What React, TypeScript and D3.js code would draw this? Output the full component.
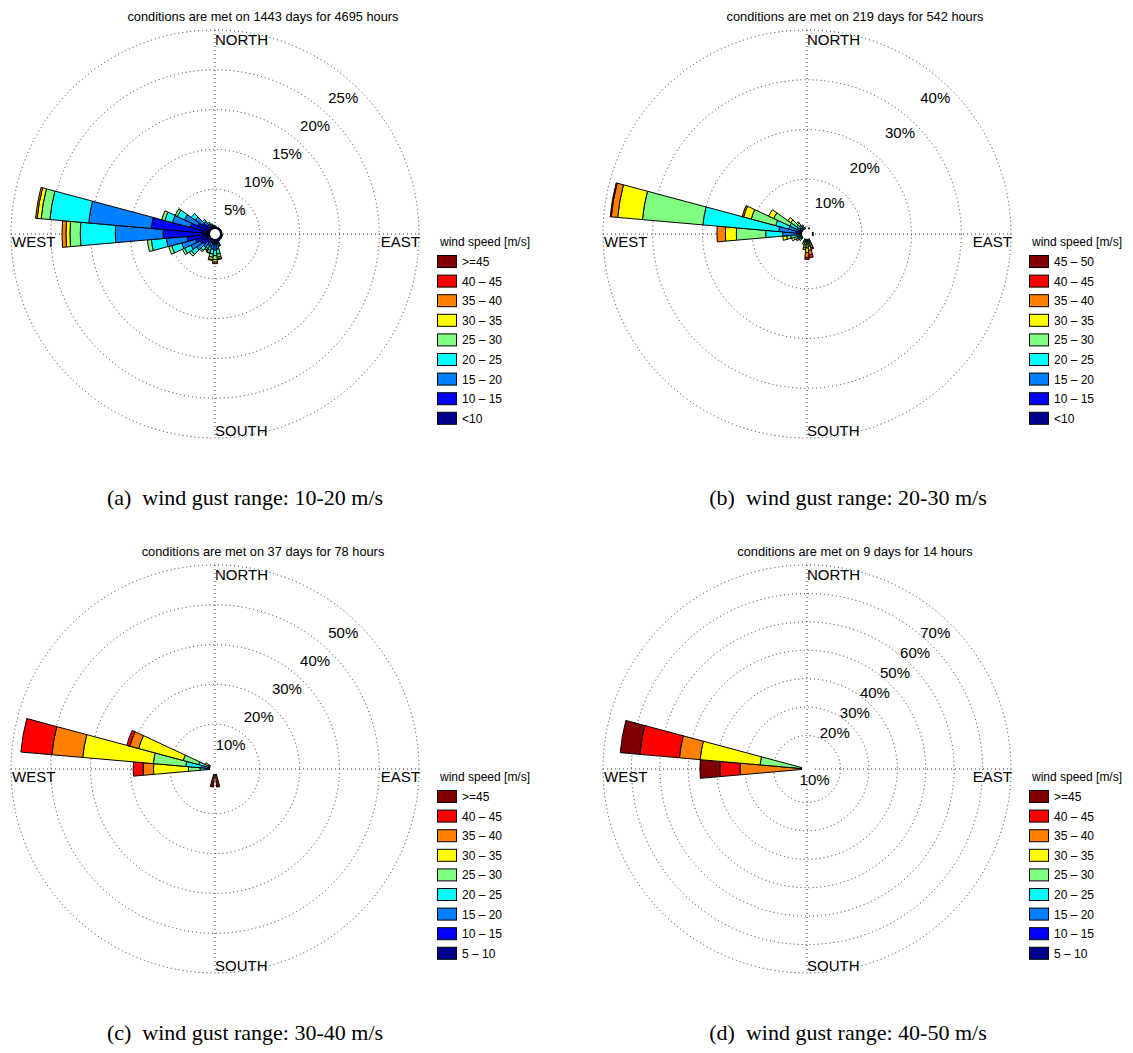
import React from 'react';
import * as d3 from 'd3';

const W = 1133;
const H = 1053;

// colour of each wind-speed class, lowest to highest
const speedColors = ['#00008f', '#0000ff', '#0080ff', '#00ffff', '#80ff80', '#ffff00', '#ff8000', '#ff0000', '#800000'];

// legend labels, lowest class first
const legendA = ['<10', '10 – 15', '15 – 20', '20 – 25', '25 – 30', '30 – 35', '35 – 40', '40 – 45', '>=45'];
const legendB = ['<10', '10 – 15', '15 – 20', '20 – 25', '25 – 30', '30 – 35', '35 – 40', '40 – 45', '45 – 50'];
const legendC = ['5 – 10', '10 – 15', '15 – 20', '20 – 25', '25 – 30', '30 – 35', '35 – 40', '40 – 45', '>=45'];
const legendD = ['5 – 10', '10 – 15', '15 – 20', '20 – 25', '25 – 30', '30 – 35', '35 – 40', '40 – 45', '>=45'];

const titles = [
  'conditions are met on 1443 days for 4695 hours',
  'conditions are met on 219 days for 542 hours',
  'conditions are met on 37 days for 78 hours',
  'conditions are met on 9 days for 14 hours',
];
const captions = [
  '(a)  wind gust range: 10-20 m/s',
  '(b)  wind gust range: 20-30 m/s',
  '(c)  wind gust range: 30-40 m/s',
  '(d)  wind gust range: 40-50 m/s',
];

const ringsA = [5, 10, 15, 20, 25];
const ringsB = [10, 20, 30, 40];
const ringsC = [10, 20, 30, 40, 50];
const ringsD = [10, 20, 30, 40, 50, 60, 70];

// sectors: [direction (deg, clockwise from north), % per speed class lowest->highest]
const roseA: number[][] = [
  [0, 0.1, 0.2, 0.1],
  [10, 0.1, 0.15, 0.05],
  [20, 0.1, 0.1, 0.05],
  [30, 0.1, 0.1, 0.05],
  [40, 0.1, 0.1, 0.05],
  [50, 0.1, 0.1, 0.05],
  [60, 0.1, 0.1, 0.05],
  [70, 0.1, 0.1, 0.05],
  [80, 0.1, 0.1, 0.05],
  [90, 0.1, 0.1, 0.05],
  [100, 0.1, 0.15, 0.05],
  [110, 0.1, 0.15, 0.05],
  [120, 0.1, 0.15, 0.05],
  [130, 0.1, 0.15, 0.05],
  [140, 0.1, 0.15, 0.05],
  [150, 0.1, 0.2, 0.1],
  [160, 0.1, 0.3, 0.3, 0.2, 0.1],
  [170, 0.1, 0.5, 0.7, 0.6, 0.4, 0.2, 0.1],
  [180, 0.1, 0.5, 0.8, 0.7, 0.5, 0.3, 0.2],
  [190, 0.1, 0.5, 0.7, 0.6, 0.4, 0.3, 0.1],
  [200, 0.1, 0.4, 0.6, 0.4, 0.3, 0.1],
  [210, 0.1, 0.4, 0.5, 0.4, 0.2, 0.1],
  [220, 0.1, 0.6, 0.7, 0.5, 0.2],
  [230, 0.2, 1.0, 1.0, 0.8, 0.3],
  [240, 0.2, 1.2, 1.3, 0.9, 0.3],
  [250, 0.3, 1.6, 1.8, 1.3, 0.4],
  [260, 0.4, 2.5, 2.6, 1.9, 0.5],
  [270, 0.8, 5.1, 6.0, 4.4, 1.3, 0.5, 0.5],
  [280, 1.0, 6.4, 7.9, 4.9, 1.1, 0.5, 0.2],
  [290, 0.4, 2.2, 2.3, 1.0, 0.4],
  [300, 0.3, 1.5, 1.8, 1.0, 0.3],
  [310, 0.3, 1.0, 1.1, 0.6],
  [320, 0.2, 0.6, 0.5, 0.3],
  [330, 0.1, 0.4, 0.3, 0.2],
  [340, 0.1, 0.3, 0.2, 0.1],
  [350, 0.1, 0.2, 0.1, 0.1],
];

const roseB: number[][] = [
  [20, 0, 0, 0, 0, 0, 0.3],
  [80, 0, 0, 0, 0, 0, 0, 0.3],
  [100, 0, 0, 0, 0, 0, 0, 0, 0.3],
  [160, 0, 0.1, 0.2, 0.3, 0.4, 0.4, 0.5, 0.3],
  [170, 0, 0.1, 0.3, 0.5, 0.6, 0.8, 0.9, 0.6],
  [180, 0, 0.1, 0.3, 0.6, 0.8, 0.9, 1.0, 0.4],
  [190, 0, 0.1, 0.2, 0.4, 0.5, 0.5, 0.5],
  [200, 0, 0.1, 0.2, 0.3, 0.3, 0.3],
  [230, 0, 0.1, 0.2, 0.3, 0.3],
  [240, 0, 0.1, 0.2, 0.4, 0.4, 0.3],
  [250, 0, 0.1, 0.3, 0.6, 0.7, 0.5],
  [260, 0.1, 0.2, 0.5, 1.5, 0.8, 0.8],
  [270, 0.1, 0.3, 3.5, 3.4, 5.9, 2.2, 1.7],
  [280, 0.3, 0.8, 3.6, 15.3, 12.2, 5.0, 1.3, 0.2],
  [290, 0.1, 0.7, 2.0, 2.7, 5.1, 1.6, 0.3],
  [300, 0.1, 0.3, 0.8, 1.6, 3.6, 1.1],
  [310, 0.1, 0.2, 0.4, 0.8, 1.5, 0.7],
  [320, 0.1, 0.2, 0.3, 0.5, 0.6, 0.3],
  [330, 0.1, 0.1, 0.2, 0.3, 0.3],
  [340, 0, 0.1, 0.1, 0.2],
];

const roseC: number[][] = [
  [170, 0, 0, 0, 0, 0.3, 0.3, 0.5, 1.0, 1.2],
  [190, 0, 0, 0, 0, 0.2, 0.3, 0.5, 1.1, 1.2],
  [270, 0, 0.3, 0.7, 1.5, 2.9, 8.8, 2.6, 2.5],
  [280, 0, 0.5, 1.7, 3.9, 8.2, 17.8, 7.8, 7.8],
  [290, 0, 0.3, 0.7, 2.0, 4.0, 11.6, 2.3, 0.8],
  [300, 0, 0, 0, 0.3, 0.4, 0.8],
];

const roseD: number[][] = [
  [270, 0, 0, 0, 0, 0, 0, 21.8, 7.1, 7.0],
  [280, 0, 0, 0, 0, 14.8, 21.2, 7.3, 14.0, 6.9],
];

// extra vertical shift of individual ring labels (px), one per ring
const labelShiftA = [0, 0, 0, 0, 0];
const labelShiftB = [0, 0, 0, 0];
const labelShiftC = [0, 0, 0, 0, 0];
const labelShiftD = [27, 0, 0, 0, 0, 0, 0];

const R0 = 5;
const RMAX = 204;
const SECTOR = 10;

type PanelProps = {
  cx: number;
  cy: number;
  rose: number[][];
  rings: number[];
  shift: number[];
  legend: string[];
  title: string;
  caption: string;
  capX: number;
};

const FONT = "'Liberation Sans', Arial, Helvetica, sans-serif";

function Panel({ cx, cy, rose, rings, shift, legend, title, caption, capX }: PanelProps) {
  const rmax = rings[rings.length - 1];
  const r = d3.scaleLinear().domain([0, rmax]).range([R0, RMAX]);
  const arc = d3.arc<any>();
  const segs: { d: string; fill: string }[] = [];
  rose.forEach((row) => {
    const dir = row[0];
    const vals = row.slice(1);
    let cum = 0;
    vals.forEach((v, i) => {
      if (v <= 0) return;
      const a0 = ((dir - SECTOR / 2) * Math.PI) / 180;
      const a1 = ((dir + SECTOR / 2) * Math.PI) / 180;
      const d = arc({ innerRadius: r(cum), outerRadius: r(cum + v), startAngle: a0, endAngle: a1 }) as string;
      segs.push({ d, fill: speedColors[i] });
      cum += v;
    });
  });
  const c45 = Math.SQRT1_2;
  const legendTop = legend.slice().reverse();
  const colorsTop = speedColors.slice().reverse();
  return (
    <g>
      <text x={cx + 48} y={cy - 213} fontSize={12.8} textAnchor="middle" fontFamily={FONT}>{title}</text>
      <g transform={`translate(${cx},${cy})`}>
        {rings.map((p) => (
          <circle key={p} r={r(p)} fill="none" stroke="#333" strokeWidth={1} strokeDasharray="1 3" />
        ))}
        <line x1={-RMAX} x2={RMAX} y1={0} y2={0} stroke="#333" strokeDasharray="1 3" />
        <line y1={-RMAX} y2={RMAX} x1={0} x2={0} stroke="#333" strokeDasharray="1 3" />
        {segs.map((s, i) => (
          <path key={i} d={s.d} fill={s.fill} stroke="#000" strokeWidth={1} strokeLinejoin="round" />
        ))}
        <circle r={R0} fill="#fff" stroke="none" />
        {rings.map((p, i) => (
          <text key={p} x={r(p) * c45 - 1} y={-r(p) * c45 + 13 + shift[i]} fontSize={15} textAnchor="end" fontFamily={FONT}>{p}%</text>
        ))}
        <text x={0} y={-RMAX + 15} fontSize={15} fontFamily={FONT}>NORTH</text>
        <text x={0} y={RMAX - 2} fontSize={15} fontFamily={FONT}>SOUTH</text>
        <text x={-RMAX + 1} y={13} fontSize={15} fontFamily={FONT}>WEST</text>
        <text x={RMAX + 1} y={13} fontSize={15} textAnchor="end" fontFamily={FONT}>EAST</text>
      </g>
      <g transform={`translate(${cx + 222},${cy})`}>
        <text x={3} y={12} fontSize={12} fontFamily={FONT}>wind speed [m/s]</text>
        {legendTop.map((lab, i) => (
          <g key={lab} transform={`translate(0,${21 + i * 19.6})`}>
            <rect x={0.5} y={0.5} width={19} height={12} fill={colorsTop[i]} stroke="#000" strokeWidth={1} />
            <text x={25} y={11} fontSize={12} fontFamily={FONT}>{lab}</text>
          </g>
        ))}
      </g>
      <text x={capX} y={cy + 271} fontSize={22} textAnchor="middle" style={{ whiteSpace: 'pre' }} fontFamily="'Liberation Serif', 'Times New Roman', serif">{caption}</text>
    </g>
  );
}

export default function App() {
  const panels = [
    { cx: 215, cy: 234, rose: roseA, rings: ringsA, shift: labelShiftA, legend: legendA, capX: 245 },
    { cx: 807, cy: 234, rose: roseB, rings: ringsB, shift: labelShiftB, legend: legendB, capX: 848 },
    { cx: 215, cy: 769, rose: roseC, rings: ringsC, shift: labelShiftC, legend: legendC, capX: 245 },
    { cx: 807, cy: 769, rose: roseD, rings: ringsD, shift: labelShiftD, legend: legendD, capX: 848 },
  ];
  return (
    <svg width={W} height={H} style={{ display: 'block', position: 'absolute', left: 0, top: 0, background: '#fff' }}>
      <rect width={W} height={H} fill="#fff" />
      {panels.map((p, i) => (
        <Panel key={i} {...p} title={titles[i]} caption={captions[i]} />
      ))}
    </svg>
  );
}
